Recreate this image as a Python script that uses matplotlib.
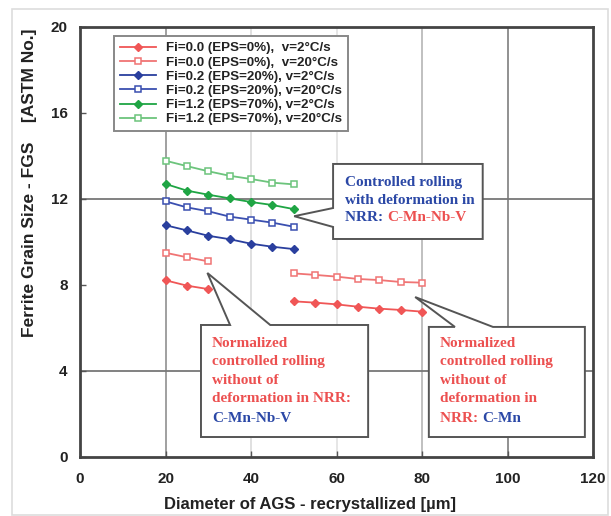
import numpy as np
import matplotlib.pyplot as plt
from matplotlib.patches import Polygon, Rectangle

plt.rcParams['font.family'] = ['Liberation Sans', 'DejaVu Sans']

# diameter of AGS [um]
x_all = [20, 25, 30, 35, 40, 45, 50]
x_low = [20, 25, 30]
x_high = [50, 55, 60, 65, 70, 75, 80]

# ferrite grain size [ASTM No.]
fi00_v2_low = [8.22, 7.97, 7.81]
fi00_v2_high = [7.24, 7.18, 7.10, 6.99, 6.90, 6.84, 6.76]
fi00_v20_low = [9.50, 9.29, 9.10]
fi00_v20_high = [8.54, 8.47, 8.39, 8.28, 8.23, 8.14, 8.11]
fi02_v2 = [10.78, 10.54, 10.29, 10.13, 9.92, 9.78, 9.67]
fi02_v20 = [11.89, 11.61, 11.43, 11.18, 11.04, 10.90, 10.71]
fi12_v2 = [12.70, 12.39, 12.20, 12.03, 11.86, 11.72, 11.53]
fi12_v20 = [13.78, 13.53, 13.29, 13.08, 12.93, 12.76, 12.68]

labels = ['Fi=0.0 (EPS=0%),  v=2°C/s', 'Fi=0.0 (EPS=0%),  v=20°C/s',
          'Fi=0.2 (EPS=20%), v=2°C/s', 'Fi=0.2 (EPS=20%), v=20°C/s',
          'Fi=1.2 (EPS=70%), v=2°C/s', 'Fi=1.2 (EPS=70%), v=20°C/s']

red = '#f05656'
red_o = '#f07474'
blue = '#2a3f9e'
blue_o = '#3a4fb0'
green = '#1fa544'
green_o = '#6cc47c'
txt_red = '#ec5050'
txt_blue = '#2b48a6'

fig = plt.figure(figsize=(6.11, 5.16), dpi=100)
ax = fig.add_axes([80/611, 1-457/516, 513/611, 430/516])

fig.patches.append(Rectangle((12/611, 0.002), 596/611, 1-10/516, transform=fig.transFigure,
                             fill=False, edgecolor='#dddddd', lw=1.2))

# grid
for gx, gc in [(20, '#999999'), (40, '#dddddd'), (60, '#e4e4e4'), (80, '#bbbbbb'), (100, '#888888')]:
    ax.axvline(gx, color=gc, lw=1.3, zorder=0)
for gy in [4, 12]:
    ax.axhline(gy, color='#777777', lw=1.3, zorder=0)

filled = dict(marker='D', ms=3.8, lw=1.3)
opened = dict(marker='s', ms=4.3, lw=1.3, mfc='white', mew=1.1)

h1, = ax.plot(x_low, fi00_v2_low, color=red, label=labels[0], **filled)
ax.plot(x_high, fi00_v2_high, color=red, **filled)
h2, = ax.plot(x_low, fi00_v20_low, color=red_o, label=labels[1], **opened)
ax.plot(x_high, fi00_v20_high, color=red_o, **opened)
h3, = ax.plot(x_all, fi02_v2, color=blue, label=labels[2], **filled)
h4, = ax.plot(x_all, fi02_v20, color=blue_o, label=labels[3], **opened)
h5, = ax.plot(x_all, fi12_v2, color=green, label=labels[4], **filled)
h6, = ax.plot(x_all, fi12_v20, color=green_o, label=labels[5], **opened)

ax.set_xlim(0, 120)
ax.set_ylim(0, 20)
ax.set_xticks(range(0, 121, 20))
ax.set_yticks(range(0, 21, 4))
ax.tick_params(direction='in', length=4, width=1, color='#555555', labelsize=11, labelcolor='#222222')
ax.tick_params(axis='x', pad=11)
ax.tick_params(axis='y', pad=9)
for t in ax.get_xticklabels() + ax.get_yticklabels():
    t.set_fontweight('bold')
for s in ax.spines.values():
    s.set_color('#444444')
    s.set_linewidth(2)

fig.text(310/611, 1-505/516, 'Diameter of AGS - recrystallized [µm]', ha='center', va='center',
         fontsize=12, fontweight='bold', color='#222222')
fig.text(30/611, 1-183/516, 'Ferrite Grain Size - FGS    [ASTM No.]', ha='center', va='center',
         rotation=90, fontsize=12.5, fontweight='bold', color='#222222')

leg = ax.legend(handles=[h1, h2, h3, h4, h5, h6], loc='upper left',
                bbox_to_anchor=(0.058, 0.988), handlelength=2.7,
                labelspacing=0.14, borderpad=0.45, borderaxespad=0.3, fancybox=False, framealpha=1,
                prop={'weight': 'bold', 'size': 9.6})
leg.get_frame().set_edgecolor('#888888')
leg.get_frame().set_linewidth(1.4)
for t in leg.get_texts():
    t.set_color('#222222')

serif = dict(family=['Liberation Serif', 'DejaVu Serif'], fontweight='bold', fontsize=11, va='center')


def callout(box, wedge, tip, side):
    l, r, b, t = box
    if side == 'left':
        pts = [(l, t), (r, t), (r, b), (l, b), (l, wedge[1]), tip, (l, wedge[0])]
    else:
        pts = [(l, t), (wedge[0], t), tip, (wedge[1], t), (r, t), (r, b), (l, b)]
    ax.add_patch(Polygon(pts, closed=True, facecolor='white', edgecolor='#555555',
                         lw=1.4, zorder=5))


# callout: controlled rolling
callout((59.2, 94.2, 10.14, 13.63), (11.58, 10.70), (50.1, 11.2), 'left')
ax.text(62.0, 12.79, 'Controlled rolling', color=txt_blue, zorder=6, **serif)
ax.text(62.0, 11.95, 'with deformation in', color=txt_blue, zorder=6, **serif)
t = ax.text(62.0, 11.12, 'NRR: ', color=txt_blue, zorder=6, **serif)
ax.annotate('C-Mn-Nb-V', xy=(1, 0.5), xycoords=t, color=txt_red, zorder=6, **serif)

# callout: normalized C-Mn-Nb-V
callout((28.3, 67.4, 0.93, 6.14), (35.1, 44.5), (29.8, 8.56), 'top')
lines_b = ['Normalized', 'controlled rolling', 'without of', 'deformation in NRR:']
ys = [5.30, 4.42, 3.58, 2.74]
for s_, y_ in zip(lines_b, ys):
    ax.text(30.9, y_, s_, color=txt_red, zorder=6, **serif)
ax.text(30.9, 1.81, 'C-Mn-Nb-V', color=txt_blue, zorder=6, **serif)

# callout: normalized C-Mn
callout((81.6, 118.1, 0.93, 6.05), (87.7, 96.6), (78.4, 7.44), 'top')
lines_c = ['Normalized', 'controlled rolling', 'without of', 'deformation in']
for s_, y_ in zip(lines_c, ys):
    ax.text(84.2, y_, s_, color=txt_red, zorder=6, **serif)
t = ax.text(84.2, 1.81, 'NRR: ', color=txt_red, zorder=6, **serif)
ax.annotate('C-Mn', xy=(1, 0.5), xycoords=t, color=txt_blue, zorder=6, **serif)

fig.savefig('out.png', dpi=100)
